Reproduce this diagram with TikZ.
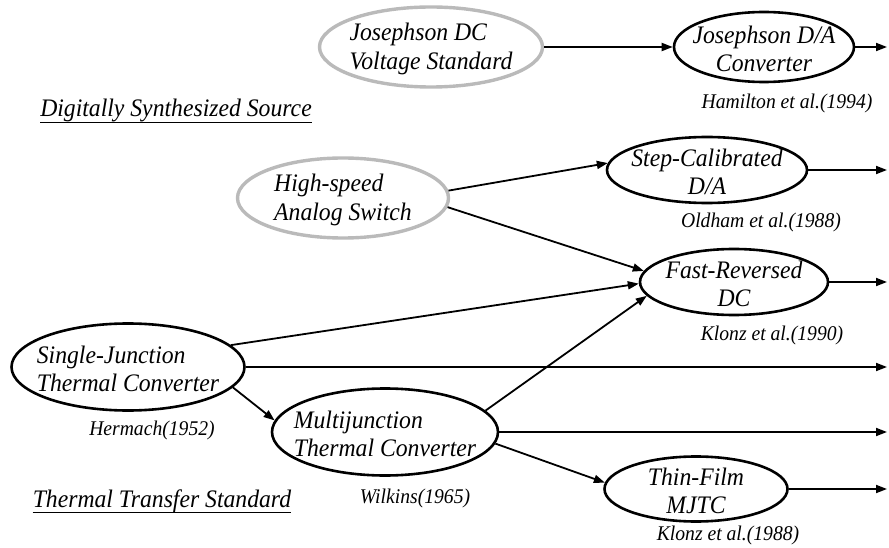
\documentclass[tikz,border=0pt]{standalone}
\usepackage{fontspec}
\setmainfont[FakeStretch=0.94]{Liberation Serif}
\usetikzlibrary{shapes.geometric, arrows.meta}
\newcommand{\stage}[6][]{
	\path (#2,#3) node[stagebox, #1, label={[stagetext, align=#5]center:#6}](#4){};
}
\newcommand{\edge}[3][]{
	\draw[flow, #1] (#2) -- (#3);
}
\newcommand{\remark}[5][]{
	\path (#2,#3) node[remarktext, #1](#4){#5};
}
\tikzset{
	stagebox/.style={draw, ellipse, line width=2.6pt, inner sep=0pt},
	oldbox/.style={draw=black!27, line width=3.4pt},
	stagetext/.style={font=\fontsize{25.2}{28.5}\selectfont\itshape, inner sep=0pt, yshift=-2pt},
	remarktext/.style={font=\fontsize{20.9}{23}\selectfont\itshape, inner sep=0pt},
	headtext/.style={font=\fontsize{25.2}{28}\selectfont\itshape, inner sep=0pt},
	flow/.style={line width=1.8pt, -{Triangle[length=11pt,width=8pt]}},
}

\begin{document}
\begin{tikzpicture}[x=1pt, y=-1pt]
	\useasboundingbox (0,0) rectangle (889,548);

	\stage[oldbox, minimum width=223pt, minimum height=80pt]{431}{47}{jdc}{left}{Josephson DC\\Voltage Standard};
	\stage[minimum width=180pt, minimum height=70pt]{764}{47}{jda}{center}{Josephson D/A\\Converter};
	\stage[oldbox, minimum width=211pt, minimum height=80pt]{343}{198}{has}{left}{High-speed\\Analog Switch};
	\stage[minimum width=200pt, minimum height=66pt]{707}{170}{scd}{center}{Step-Calibrated\\D/A};
	\stage[minimum width=188pt, minimum height=66pt]{734}{282}{frd}{center}{Fast-Reversed\\DC};
	\stage[minimum width=233pt, minimum height=87pt]{128}{367}{sjtc}{left}{Single-Junction\\Thermal Converter};
	\stage[minimum width=226pt, minimum height=87pt]{385}{432}{mjtc}{left}{Multijunction\\Thermal Converter};
	\stage[minimum width=183pt, minimum height=65pt]{696}{489}{tfm}{center}{Thin-Film\\MJTC};

	% free ends on the right
	\coordinate (o1) at (887,47);
	\coordinate (o2) at (887,170);
	\coordinate (o3) at (887,282);
	\coordinate (o4) at (887,367);
	\coordinate (o5) at (887,432);
	\coordinate (o6) at (887,489);

	\edge{jdc}{jda};
	\edge{jda}{o1};
	\edge{has.4}{scd.176};
	\edge{has.-5}{frd.173};
	\edge{scd}{o2};
	\edge{frd}{o3};
	\edge{sjtc.12}{frd.181};
	\edge{sjtc}{o4};
	\edge{sjtc.-11}{mjtc.174};
	\edge{mjtc.12}{frd.189};
	\edge{mjtc}{o5};
	\edge{mjtc.-6}{tfm.176};
	\edge{tfm}{o6};

	\remark{787}{103}{ham}{Hamilton et al.(1994)};
	\remark{761}{222}{old}{Oldham et al.(1988)};
	\remark{772}{335}{klo90}{Klonz et al.(1990)};
	\remark{152}{430}{her}{Hermach(1952)};
	\remark{415}{498}{wil}{Wilkins(1965)};
	\remark{728}{535}{klo88}{Klonz et al.(1988)};

	% group headings
	\node[headtext, anchor=base] (dss) at (176,117) {Digitally Synthesized Source};
	\draw[line width=1.6pt] ([yshift=-5.5pt]dss.base west) -- ([yshift=-5.5pt]dss.base east);
	\node[headtext, anchor=base] (tts) at (162,507) {Thermal Transfer Standard};
	\draw[line width=1.6pt] ([yshift=-5.5pt]tts.base west) -- ([yshift=-5.5pt]tts.base east);
\end{tikzpicture}
\end{document}
